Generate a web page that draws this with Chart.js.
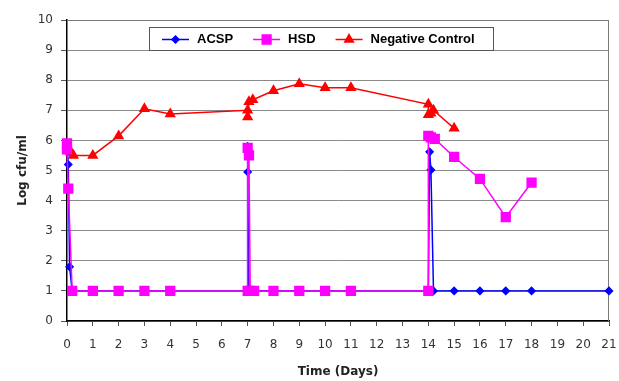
<!DOCTYPE html>
<html>
<head>
<meta charset="utf-8">
<script src="https://cdn.jsdelivr.net/npm/chart.js@4"></script>
<style>
  html, body { margin: 0; padding: 0; background: #fff; }
  #wrap { width: 619px; height: 381px; position: relative; }
</style>
</head>
<body>
<div id="wrap"><canvas id="chart"></canvas></div>
<script>
// values
const acspDays = [0, 0.05, 0.1, 0.2, 1, 2, 3, 4, 7, 7, 7, 7.05, 7.2, 8, 9, 10, 11, 14, 14.05, 14.1, 14.2, 15, 16, 17, 18, 21];
const acspLog  = [5.8, 5.2, 1.8, 1, 1, 1, 1, 1, 1, 5.8, 4.95, 1, 1, 1, 1, 1, 1, 1, 5.62, 5.02, 1, 1, 1, 1, 1, 1];

const hsdDays = [0, 0, 0.05, 0.2, 1, 2, 3, 4, 7, 7, 7.05, 7.1, 7.25, 8, 9, 10, 11, 14, 14, 14.1, 14.25, 15, 16, 17, 18];
const hsdLog  = [5.9, 5.7, 4.4, 1, 1, 1, 1, 1, 1, 5.75, 5.5, 1, 1, 1, 1, 1, 1, 1, 6.15, 6.1, 6.05, 5.45, 4.72, 3.45, 4.6];

const ncDays = [0, 0.05, 0.1, 0.15, 0.25, 1, 2, 3, 4, 7, 7, 7.05, 7.2, 8, 9, 10, 11, 14, 14, 14.1, 14.2, 15];
const ncLog  = [5.85, 5.75, 5.65, 5.6, 5.5, 5.5, 6.15, 7.05, 6.88, 7.0, 6.78, 7.28, 7.35, 7.65, 7.88, 7.75, 7.75, 7.2, 6.85, 6.9, 7.0, 6.4];

const seriesNames = ['ACSP', 'HSD', 'Negative Control'];
const dayMin = 0, dayMax = 21;
const logMin = 0, logMax = 10;

function toPoints(xs, ys) {
    return xs.map((x, i) => ({ x: x, y: ys[i] }));
}

// top/right frame and the boxed legend inside the plot
const framePlugin = {
    id: 'frame',
    beforeDatasetsDraw(chart) {
        const { ctx, chartArea: a } = chart;
        ctx.save();
        ctx.strokeStyle = '#7a7a7a';
        ctx.lineWidth = 1;
        ctx.beginPath();
        ctx.moveTo(a.left, a.top + 0.5);
        ctx.lineTo(a.right - 0.5, a.top + 0.5);
        ctx.lineTo(a.right - 0.5, a.bottom);
        ctx.stroke();
        ctx.restore();
    },
    afterDraw(chart) {
        const { ctx } = chart;
        const boxX = 149, boxY = 27, boxW = 344, boxH = 23;
        ctx.save();
        ctx.fillStyle = '#fff';
        ctx.fillRect(boxX, boxY, boxW, boxH);
        ctx.strokeStyle = '#555';
        ctx.lineWidth = 1;
        ctx.strokeRect(boxX + 0.5, boxY + 0.5, boxW, boxH);
        ctx.font = 'bold 13px "Liberation Sans", Arial, sans-serif';
        ctx.textBaseline = 'middle';
        let x = boxX + 13;
        const cy = boxY + boxH / 2 + 1;
        chart.data.datasets.forEach(ds => {
            ctx.strokeStyle = ds.borderColor;
            ctx.fillStyle = ds.backgroundColor;
            ctx.lineWidth = 1.5;
            ctx.beginPath();
            ctx.moveTo(x, cy);
            ctx.lineTo(x + 27, cy);
            ctx.stroke();
            Chart.helpers.drawPoint(ctx, { pointStyle: ds.pointStyle, radius: ds.pointRadius, rotation: 0, borderWidth: 1 }, x + 13.5, cy);
            x += 35;
            ctx.fillStyle = '#000';
            ctx.fillText(ds.label, x, cy);
            x += ctx.measureText(ds.label).width + 20;
        });
        ctx.restore();
    }
};

const tickFont = { family: '"DejaVu Sans", Verdana, sans-serif', size: 12 };
const titleFont = { family: '"DejaVu Sans", Verdana, sans-serif', size: 12, weight: 'bold' };

new Chart(document.getElementById('chart'), {
    type: 'line',
    data: {
        datasets: [
            {
                label: seriesNames[0],
                data: toPoints(acspDays, acspLog),
                borderColor: '#0000ff',
                backgroundColor: '#0000ff',
                pointStyle: 'rectRot',
                pointRadius: 3.5,
                borderWidth: 1.5,
                order: 1,
                clip: false
            },
            {
                label: seriesNames[1],
                data: toPoints(hsdDays, hsdLog),
                borderColor: '#ff00ff',
                backgroundColor: '#ff00ff',
                pointStyle: 'rect',
                pointRadius: 6.2,
                borderWidth: 1.5,
                order: 0,
                clip: false
            },
            {
                label: seriesNames[2],
                data: toPoints(ncDays, ncLog),
                borderColor: '#ff0000',
                backgroundColor: '#ff0000',
                pointStyle: 'triangle',
                pointRadius: 5,
                borderWidth: 1.5,
                order: 2,
                clip: false
            }
        ]
    },
    options: {
        responsive: true,
        maintainAspectRatio: false,
        animation: false,
        layout: { padding: { top: 20, right: 0, left: 0, bottom: 0 } },
        plugins: {
            legend: { display: false },
            tooltip: { enabled: false }
        },
        elements: { line: { tension: 0 } },
        scales: {
            x: {
                type: 'linear',
                min: dayMin,
                max: dayMax,
                afterFit(s) { s.height = 60; s.paddingRight = 10; },
                ticks: { stepSize: 1, color: '#333', font: tickFont, padding: 12, maxRotation: 0, autoSkip: false },
                grid: { drawOnChartArea: false, tickLength: 5, color: '#555' },
                border: { color: '#000', width: 1.5 },
                title: { display: true, text: 'Time (Days)', color: '#222', font: titleFont, padding: { top: 0, bottom: 2 } }
            },
            y: {
                min: logMin,
                max: logMax,
                afterFit(s) { s.width = 67; },
                ticks: { stepSize: 1, color: '#333', font: tickFont, padding: 8 },
                grid: { color: '#8a8a8a', tickLength: 6, tickColor: '#555' },
                border: { color: '#000', width: 1.5 },
                title: { display: true, text: 'Log cfu/ml', color: '#222', font: titleFont, padding: { top: 16, bottom: 0 } }
            }
        }
    },
    plugins: [framePlugin]
});
</script>
</body>
</html>
